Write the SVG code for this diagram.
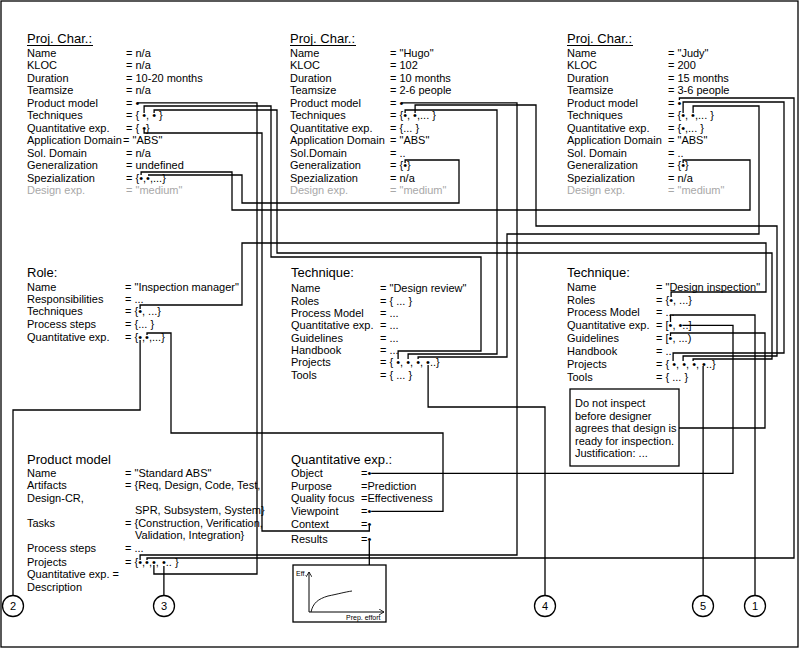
<svg xmlns="http://www.w3.org/2000/svg" width="800" height="649" viewBox="0 0 800 649">
<style>
text{font-family:"Liberation Sans",Arial,sans-serif;font-size:11px;fill:#000}
.t{font-size:13px}
.g{fill:#a8a8a8}
.c{fill:none;stroke:#000;stroke-width:1.3}
.b{fill:#fff;stroke:#000;stroke-width:1.3}
.s{font-size:7px}
.n{text-anchor:middle}
</style>
<defs>
<marker id="ah" markerWidth="6" markerHeight="6" refX="5" refY="3" orient="auto" markerUnits="userSpaceOnUse"><path d="M0,0 L5,3 L0,6" fill="none" stroke="#000" stroke-width="0.8"/></marker>
</defs>
<rect x="1" y="1" width="797" height="646" fill="#fff" stroke="#000" stroke-width="1.3"/>

<g id="connectors">
<path class="c" d="M137.4,102.8 H257 V574 H153.9 V565"/>
<path class="c" d="M144.1,113 V106 H271 V257 H481 V351 H398.1 V359"/>
<path class="c" d="M154.1,113 V110 H277 V253 H772 V359 H693.1 V361"/>
<path class="c" d="M144.1,130 V133 H262 V531 H369.3 V526"/>
<path class="c" d="M141.1,175 V172 H232 V210 H750 V160 H683.1 V163"/>
<path class="c" d="M148,175 V175 H242 V203 H459 V160 H405.1 V163"/>
<path class="c" d="M401.4,102.8 H517 V555 H140.1 V560"/>
<path class="c" d="M405.1,113 V110 H497 V354 H408.1 V359"/>
<path class="c" d="M415.1,113 V105 H536 V226 H777 V356 H683.1 V361"/>
<path class="c" d="M679.4,100 V98 H794 V558 H147 V560"/>
<path class="c" d="M683.1,113 V102 H784 V353 H673.1 V361"/>
<path class="c" d="M693.1,113 V106 H759 V234 H507 V357 H418.1 V359"/>
<path class="c" d="M140.1,309 V305 H242 V243 H766 V292 H671.1 V297"/>
<path class="c" d="M140.1,340 V410 H13 V595.5"/>
<path class="c" d="M147,335 V333 H171 V433 H443 V511.3 H371.2"/>
<path class="c" d="M428.1,365 V407 H545 V595.5"/>
<path class="c" d="M670.5,322 V315 H755 V595.5"/>
<path class="c" d="M682.4,325.3 H733 V473.3 H371.2"/>
<path class="c" d="M670.5,336 V333 H765 V428 H679"/>
<path class="c" d="M703.1,366 V595.5"/>
<path class="c" d="M163.9,566 V595.5"/>
<path class="c" d="M369.3,541 V565"/>
</g>

<g id="projchar1">
<text class="t" x="27" y="43">Proj. Char.:</text>
<line x1="27" y1="45.5" x2="93" y2="45.5" stroke="#000" stroke-width="1"/>
<text x="27" y="56.5">Name</text><text x="126" y="56.5">= n/a</text>
<text x="27" y="69">KLOC</text><text x="126" y="69">= n/a</text>
<text x="27" y="81.5">Duration</text><text x="126" y="81.5">= 10-20 months</text>
<text x="27" y="94">Teamsize</text><text x="126" y="94">= n/a</text>
<text x="27" y="106.5">Product model</text><text x="126" y="106.5">= •</text>
<text x="27" y="119">Techniques</text><text x="126" y="119">= { •, • }</text>
<text x="27" y="131.5">Quantitative exp.</text><text x="126" y="131.5">= { •}</text>
<text x="27" y="144">Application Domain</text><text x="123" y="144">= "ABS"</text>
<text x="27" y="156.5">Sol. Domain</text><text x="126" y="156.5">= n/a</text>
<text x="27" y="169">Generalization</text><text x="126" y="169">= undefined</text>
<text x="27" y="181.5">Spezialization</text><text x="126" y="181.5">= {•,•,...}</text>
<text class="g" x="27" y="194">Design exp.</text><text class="g" x="126" y="194">= "medium"</text>
</g>

<g id="projchar2">
<text class="t" x="290" y="43">Proj. Char.:</text>
<line x1="290" y1="45.5" x2="356" y2="45.5" stroke="#000" stroke-width="1"/>
<text x="290" y="56.5">Name</text><text x="390" y="56.5">= "Hugo"</text>
<text x="290" y="69">KLOC</text><text x="390" y="69">= 102</text>
<text x="290" y="81.5">Duration</text><text x="390" y="81.5">= 10 months</text>
<text x="290" y="94">Teamsize</text><text x="390" y="94">= 2-6 people</text>
<text x="290" y="106.5">Product model</text><text x="390" y="106.5">= •</text>
<text x="290" y="119">Techniques</text><text x="390" y="119">= {•, •,... }</text>
<text x="290" y="131.5">Quantitative exp.</text><text x="390" y="131.5">= {... }</text>
<text x="290" y="144">Application Domain</text><text x="390" y="144">= "ABS"</text>
<text x="290" y="156.5">Sol.Domain</text><text x="390" y="156.5">= ..</text>
<text x="290" y="169">Generalization</text><text x="390" y="169">= {•}</text>
<text x="290" y="181.5">Spezialization</text><text x="390" y="181.5">= n/a</text>
<text class="g" x="290" y="194">Design exp.</text><text class="g" x="390" y="194">= "medium"</text>
</g>

<g id="projchar3">
<text class="t" x="567" y="43">Proj. Char.:</text>
<line x1="567" y1="45.5" x2="633" y2="45.5" stroke="#000" stroke-width="1"/>
<text x="567" y="56.5">Name</text><text x="668" y="56.5">= "Judy"</text>
<text x="567" y="69">KLOC</text><text x="668" y="69">= 200</text>
<text x="567" y="81.5">Duration</text><text x="668" y="81.5">= 15 months</text>
<text x="567" y="94">Teamsize</text><text x="668" y="94">= 3-6 people</text>
<text x="567" y="106.5">Product model</text><text x="668" y="106.5">= •</text>
<text x="567" y="119">Techniques</text><text x="668" y="119">= {•, •,... }</text>
<text x="567" y="131.5">Quantitative exp.</text><text x="668" y="131.5">= {•,... }</text>
<text x="567" y="144">Application Domain</text><text x="668" y="144">= "ABS"</text>
<text x="567" y="156.5">Sol. Domain</text><text x="668" y="156.5">= ..</text>
<text x="567" y="169">Generalization</text><text x="668" y="169">= {•}</text>
<text x="567" y="181.5">Spezialization</text><text x="668" y="181.5">= n/a</text>
<text class="g" x="567" y="194">Design exp.</text><text class="g" x="668" y="194">= "medium"</text>
</g>

<g id="role">
<text class="t" x="27" y="277">Role:</text>
<text x="27" y="291">Name</text><text x="125" y="291">= "Inspection manager"</text>
<text x="27" y="303">Responsibilities</text><text x="125" y="303">= ...</text>
<text x="27" y="315">Techniques</text><text x="125" y="315">= {•, ...}</text>
<text x="27" y="328">Process steps</text><text x="125" y="328">= {... }</text>
<text x="27" y="341">Quantitative exp.</text><text x="125" y="341">= {•,•,...}</text>
</g>

<g id="technique-review">
<text class="t" x="291" y="277">Technique:</text>
<text x="291" y="292">Name</text><text x="380" y="292">= "Design review"</text>
<text x="291" y="305">Roles</text><text x="380" y="305">= { ... }</text>
<text x="291" y="317">Process Model</text><text x="380" y="317">= ...</text>
<text x="291" y="329">Quantitative exp.</text><text x="380" y="329">= ...</text>
<text x="291" y="342">Guidelines</text><text x="380" y="342">= ...</text>
<text x="291" y="354">Handbook</text><text x="380" y="354">= ...</text>
<text x="291" y="366">Projects</text><text x="380" y="366">= { •, •, •, •..}</text>
<text x="291" y="379">Tools</text><text x="380" y="379">= { ... }</text>
</g>

<g id="technique-inspection">
<text class="t" x="567" y="277">Technique:</text>
<text x="567" y="291">Name</text><text x="656" y="291">= "Design inspection"</text>
<text x="567" y="303.5">Roles</text><text x="656" y="303.5">= {•, ...}</text>
<text x="567" y="316">Process Model</text><text x="656" y="316">= ...</text>
<text x="567" y="329">Quantitative exp.</text><text x="656" y="329">= [•, •..]</text>
<text x="567" y="342">Guidelines</text><text x="656" y="342">= [•, ...)</text>
<text x="567" y="355">Handbook</text><text x="656" y="355">= ..</text>
<text x="567" y="367.5">Projects</text><text x="656" y="367.5">= { •, •, •, •..}</text>
<text x="567" y="381">Tools</text><text x="656" y="381">= { ... }</text>
</g>

<g id="note">
<rect class="b" x="570" y="389" width="109" height="77"/>
<text x="575" y="407">Do not inspect</text>
<text x="575" y="419.5">before designer</text>
<text x="575" y="432">agrees that design is</text>
<text x="575" y="444.5">ready for inspection.</text>
<text x="575" y="457">Justification: ...</text>
</g>

<g id="productmodel">
<text class="t" x="27" y="464">Product model</text>
<text x="27" y="477">Name</text><text x="125" y="477">= "Standard ABS"</text>
<text x="27" y="489">Artifacts</text><text x="125" y="489">= {Req, Design, Code, Test,</text>
<text x="27" y="502">Design-CR,</text>
<text x="135" y="514">SPR, Subsystem, System}</text>
<text x="27" y="527">Tasks</text><text x="125" y="527">= {Construction, Verification,</text>
<text x="135" y="539">Validation, Integration}</text>
<text x="27" y="552">Process steps</text><text x="125" y="552">= ...</text>
<text x="27" y="566">Projects</text><text x="125" y="566">= {•,•,•, •.. }</text>
<text x="27" y="578">Quantitative exp. =</text>
<text x="27" y="591">Description</text>
</g>

<g id="quantexp">
<text class="t" x="291" y="464">Quantitative exp.:</text>
<text x="291" y="477">Object</text><text x="361" y="477">=•</text>
<text x="291" y="490">Purpose</text><text x="361" y="490">=Prediction</text>
<text x="291" y="502">Quality focus</text><text x="361" y="502">=Effectiveness</text>
<text x="291" y="515">Viewpoint</text><text x="361" y="515">=•</text>
<text x="291" y="528">Context</text><text x="361" y="528">=•</text>
<text x="291" y="543">Results</text><text x="361" y="543">=•</text>
</g>

<g id="graph">
<rect class="b" x="293" y="565" width="93" height="57"/>
<text class="s" x="296" y="576">Eff.</text>
<line x1="309" y1="612" x2="309" y2="572" stroke="#000" stroke-width="1" marker-end="url(#ah)"/>
<line x1="309" y1="612" x2="384" y2="612" stroke="#000" stroke-width="1" marker-end="url(#ah)"/>
<path d="M311,612 C313,603 318,599 328,596 C338,594 345,592 352,591" fill="none" stroke="#000" stroke-width="0.9"/>
<text class="s" x="346" y="620">Prep. effort</text>
</g>

<g id="c2"><circle class="b" cx="13" cy="606" r="10.5"/><text class="n" x="13" y="610">2</text></g>
<g id="c3"><circle class="b" cx="164" cy="606" r="10.5"/><text class="n" x="164" y="610">3</text></g>
<g id="c4"><circle class="b" cx="545" cy="606" r="10.5"/><text class="n" x="545" y="610">4</text></g>
<g id="c5"><circle class="b" cx="703" cy="606" r="10.5"/><text class="n" x="703" y="610">5</text></g>
<g id="c1"><circle class="b" cx="755" cy="606" r="10.5"/><text class="n" x="755" y="610">1</text></g>
</svg>
